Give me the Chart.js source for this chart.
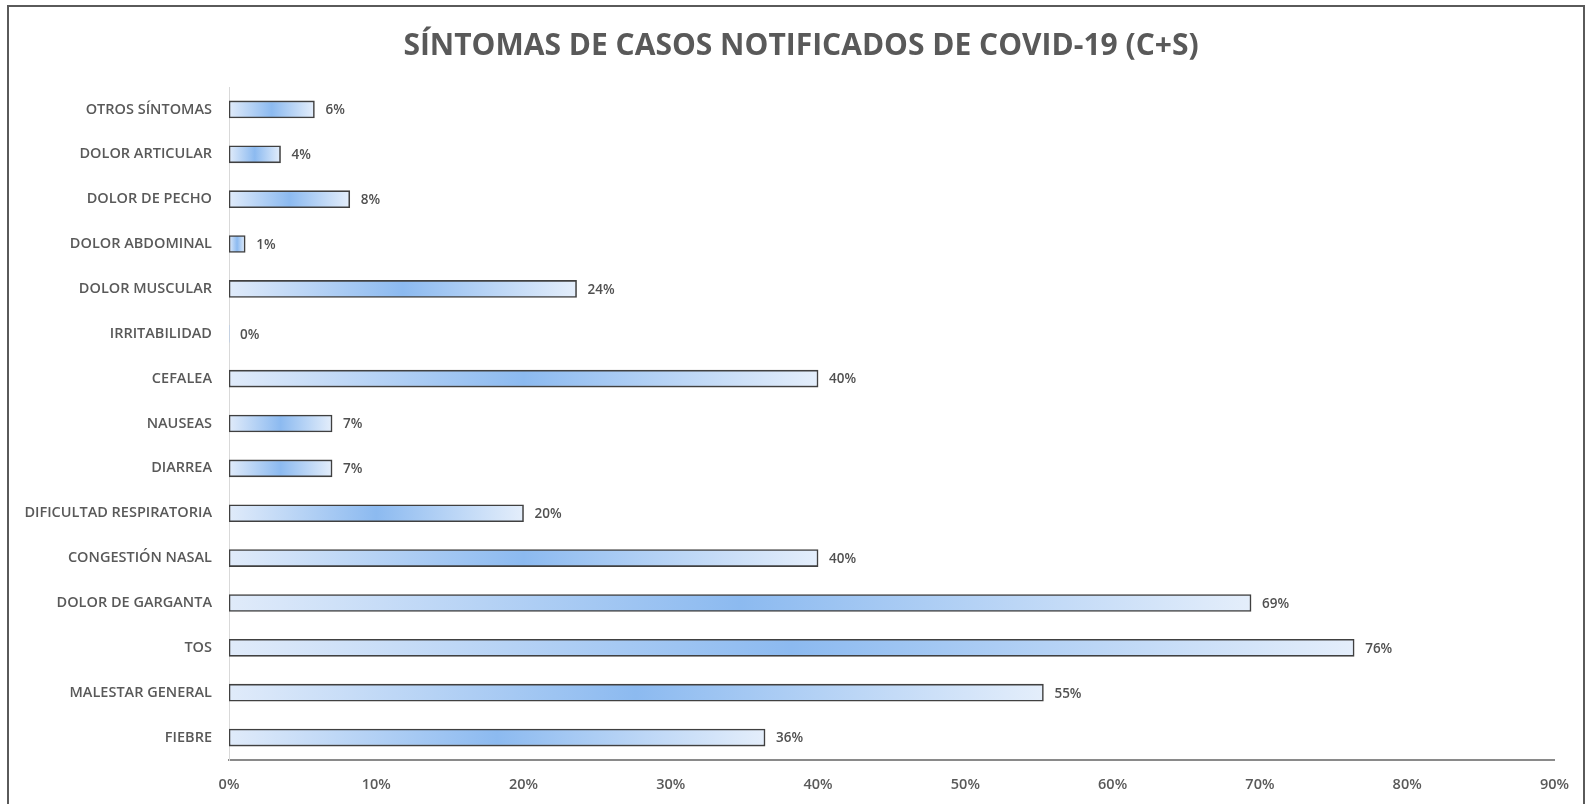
<!DOCTYPE html>
<html>
  <head>
    <title>Síntomas COVID-19</title>
    <script src="https://cdn.jsdelivr.net/npm/chart.js"></script>
    <style>
      body {
        margin: 0;
        background: #ffffff;
      }
      #wrap {
        position: relative;
        width: 1585px;
        height: 804px;
        overflow: hidden;
      }
      #frame {
        position: absolute;
        left: 7px;
        top: 5px;
        width: 1574px;
        height: 820px;
        border: 2px solid #5a5a5a;
        pointer-events: none;
      }
      canvas {
        position: absolute;
        left: 0;
        top: 0;
      }
    </style>
  </head>
  <body>
    <div id="wrap">
      <canvas id="sintomasChart" width="1585" height="804"></canvas>
      <div id="frame"></div>
    </div>
    <script>
      // datos (de arriba a abajo)
      var sintomas = [
        'OTROS SÍNTOMAS', 'DOLOR ARTICULAR', 'DOLOR DE PECHO', 'DOLOR ABDOMINAL',
        'DOLOR MUSCULAR', 'IRRITABILIDAD', 'CEFALEA', 'NAUSEAS', 'DIARREA',
        'DIFICULTAD RESPIRATORIA', 'CONGESTIÓN NASAL', 'DOLOR DE GARGANTA',
        'TOS', 'MALESTAR GENERAL', 'FIEBRE'
      ];
      var porcentajes = [5.8, 3.5, 8.2, 1.1, 23.6, 0, 40.0, 7.0, 7.0, 20.0, 40.0, 69.4, 76.4, 55.3, 36.4];
      var ticksX = [0, 10, 20, 30, 40, 50, 60, 70, 80, 90];
      var titulo = 'SÍNTOMAS DE CASOS NOTIFICADOS DE COVID-19 (C+S)';

      var grisTexto = '#595959';

      // gradiente horizontal para cada barra: claro en los extremos, azul al centro
      function rellenoBarra(ctx) {
        var chart = ctx.chart;
        if (!chart.chartArea) return '#9dc3f1';
        var x = chart.scales.x;
        var v = porcentajes[ctx.dataIndex];
        var x0 = x.getPixelForValue(0);
        var x1 = x.getPixelForValue(v);
        if (x1 - x0 < 2) return '#9dc3f1';
        var g = chart.ctx.createLinearGradient(x0, 0, x1, 0);
        g.addColorStop(0, '#e0ebfa');
        g.addColorStop(0.5, '#8cbaf0');
        g.addColorStop(1, '#e4eefb');
        return g;
      }

      // titulo centrado en el marco (el titulo de Chart.js se centra sobre otra zona)
      var tituloCentrado = {
        id: 'tituloCentrado',
        afterDraw: function(chart) {
          var ctx = chart.ctx;
          ctx.save();
          ctx.font = 'bold 30px "Open Sans"';
          ctx.fillStyle = grisTexto;
          ctx.textAlign = 'center';
          ctx.textBaseline = 'middle';
          ctx.fillText(titulo, 801, 46);
          ctx.restore();
        }
      };

      // etiquetas de valor a la derecha de cada barra
      var etiquetasValor = {
        id: 'etiquetasValor',
        afterDatasetsDraw: function(chart) {
          var ctx = chart.ctx;
          var meta = chart.getDatasetMeta(0);
          ctx.save();
          ctx.font = '600 13.5px "Open Sans"';
          ctx.fillStyle = '#505050';
          ctx.textAlign = 'left';
          ctx.textBaseline = 'middle';
          meta.data.forEach(function(bar, i) {
            ctx.fillText(Math.round(porcentajes[i]) + '%', bar.x + 11, bar.y + 1);
          });
          ctx.restore();
        }
      };

      new Chart(document.getElementById('sintomasChart').getContext('2d'), {
        type: 'bar',
        data: {
          labels: sintomas,
          datasets: [{
            data: porcentajes,
            backgroundColor: rellenoBarra,
            borderColor: '#404040',
            borderWidth: function(ctx) { return porcentajes[ctx.dataIndex] > 0 ? 1.6 : 0; },
            borderSkipped: false,
            barThickness: 17
          }]
        },
        options: {
          indexAxis: 'y',
          responsive: false,
          animation: false,
          layout: { padding: { left: 0, right: 28, top: 87, bottom: 0 } },
          plugins: {
            legend: { display: false },
            tooltip: { enabled: false },
            title: { display: false }
          },
          scales: {
            x: {
              min: 0,
              max: 90,
              afterBuildTicks: function(scale) {
                scale.ticks = ticksX.map(function(v) { return { value: v }; });
              },
              afterFit: function(scale) { scale.height = 44; },
              grid: { display: false, drawTicks: false },
              border: { display: true, color: '#8a8a8a', width: 2 },
              ticks: {
                padding: 16,
                color: grisTexto,
                font: { family: '"Open Sans"', size: 14.5, weight: '600' },
                callback: function(v) { return v + '%'; }
              }
            },
            y: {
              afterFit: function(scale) { scale.width = 229; },
              grid: { display: false, drawTicks: false },
              border: { display: true, color: '#d9d9d9', width: 1 },
              ticks: {
                padding: 17,
                color: grisTexto,
                font: { family: '"Open Sans"', size: 14.5, weight: '600' }
              }
            }
          }
        },
        plugins: [etiquetasValor, tituloCentrado]
      });
    </script>
  </body>
</html>
